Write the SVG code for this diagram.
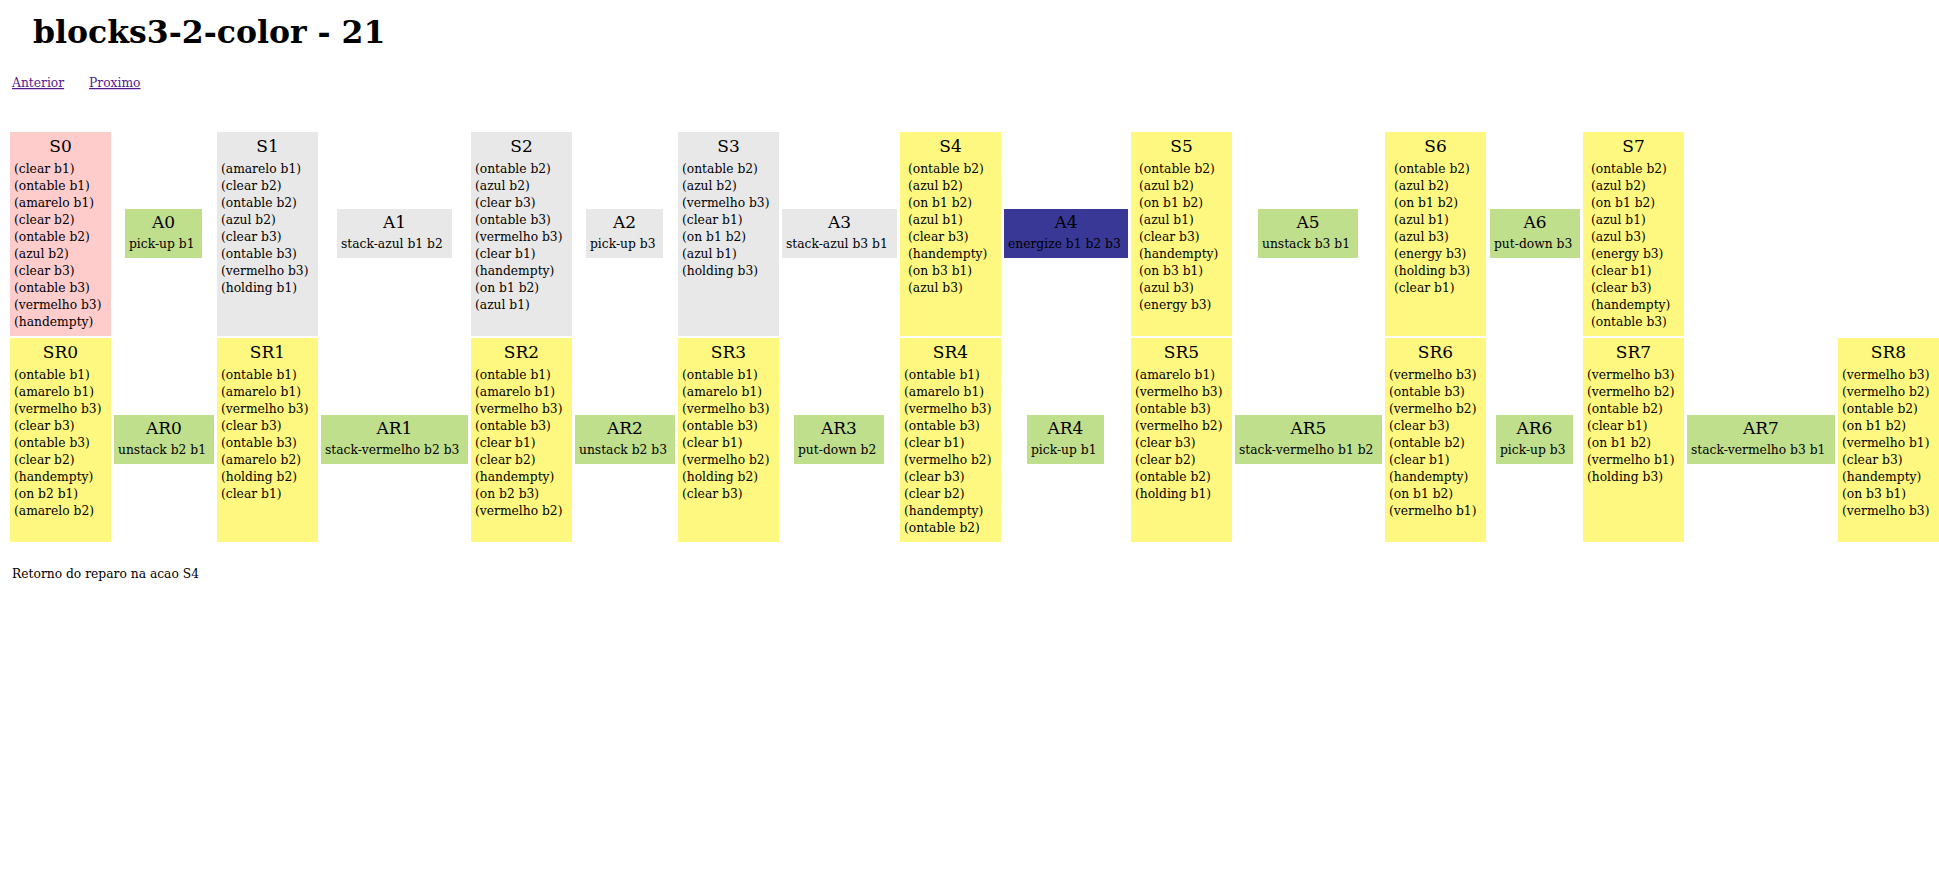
<svg xmlns="http://www.w3.org/2000/svg" width="1939" height="886" viewBox="0 0 1939 886">
<style>
text{font-family:"DejaVu Serif","Liberation Serif",serif;fill:#000}
.h1{font-size:31.5px;font-weight:bold}
.lnk{font-size:12.3px;fill:#551A8B;text-decoration:underline}
.t{font-size:17px;text-anchor:middle}
.b{font-size:12.3px}
.pink{fill:#FFCCCC}
.gray{fill:#E8E8E8}
.yel{fill:#FFF880}
.grn{fill:#C0DF8C}
.blu{fill:#3A3896}
</style>
<rect width="1939" height="886" fill="#fff"/>
<text class="h1" x="33" y="43">blocks3-2-color - 21</text>
<text class="lnk" x="12" y="87">Anterior</text>
<text class="lnk" x="89" y="87">Proximo</text>
<g id="connectors"></g>

<g id="S0"><rect class="pink" x="10" y="132" width="101" height="204"/><text class="t" x="60.5" y="152">S0</text><text class="b" y="173"><tspan x="14">(clear b1)</tspan><tspan x="14" dy="17">(ontable b1)</tspan><tspan x="14" dy="17">(amarelo b1)</tspan><tspan x="14" dy="17">(clear b2)</tspan><tspan x="14" dy="17">(ontable b2)</tspan><tspan x="14" dy="17">(azul b2)</tspan><tspan x="14" dy="17">(clear b3)</tspan><tspan x="14" dy="17">(ontable b3)</tspan><tspan x="14" dy="17">(vermelho b3)</tspan><tspan x="14" dy="17">(handempty)</tspan></text></g>
<g id="A0"><rect class="grn" x="125" y="209" width="77" height="49"/><text class="t" x="163.5" y="228">A0</text><text class="b" x="129" y="248">pick-up b1</text></g>
<g id="S1"><rect class="gray" x="217" y="132" width="101" height="204"/><text class="t" x="267.5" y="152">S1</text><text class="b" y="173"><tspan x="221">(amarelo b1)</tspan><tspan x="221" dy="17">(clear b2)</tspan><tspan x="221" dy="17">(ontable b2)</tspan><tspan x="221" dy="17">(azul b2)</tspan><tspan x="221" dy="17">(clear b3)</tspan><tspan x="221" dy="17">(ontable b3)</tspan><tspan x="221" dy="17">(vermelho b3)</tspan><tspan x="221" dy="17">(holding b1)</tspan></text></g>
<g id="A1"><rect class="gray" x="337" y="209" width="115" height="49"/><text class="t" x="394.5" y="228">A1</text><text class="b" x="341" y="248">stack-azul b1 b2</text></g>
<g id="S2"><rect class="gray" x="471" y="132" width="101" height="204"/><text class="t" x="521.5" y="152">S2</text><text class="b" y="173"><tspan x="475">(ontable b2)</tspan><tspan x="475" dy="17">(azul b2)</tspan><tspan x="475" dy="17">(clear b3)</tspan><tspan x="475" dy="17">(ontable b3)</tspan><tspan x="475" dy="17">(vermelho b3)</tspan><tspan x="475" dy="17">(clear b1)</tspan><tspan x="475" dy="17">(handempty)</tspan><tspan x="475" dy="17">(on b1 b2)</tspan><tspan x="475" dy="17">(azul b1)</tspan></text></g>
<g id="A2"><rect class="gray" x="586" y="209" width="77" height="49"/><text class="t" x="624.5" y="228">A2</text><text class="b" x="590" y="248">pick-up b3</text></g>
<g id="S3"><rect class="gray" x="678" y="132" width="101" height="204"/><text class="t" x="728.5" y="152">S3</text><text class="b" y="173"><tspan x="682">(ontable b2)</tspan><tspan x="682" dy="17">(azul b2)</tspan><tspan x="682" dy="17">(vermelho b3)</tspan><tspan x="682" dy="17">(clear b1)</tspan><tspan x="682" dy="17">(on b1 b2)</tspan><tspan x="682" dy="17">(azul b1)</tspan><tspan x="682" dy="17">(holding b3)</tspan></text></g>
<g id="A3"><rect class="gray" x="782" y="209" width="115" height="49"/><text class="t" x="839.5" y="228">A3</text><text class="b" x="786" y="248">stack-azul b3 b1</text></g>
<g id="S4"><rect class="yel" x="900" y="132" width="101" height="204"/><text class="t" x="950.5" y="152">S4</text><text class="b" y="173"><tspan x="908">(ontable b2)</tspan><tspan x="908" dy="17">(azul b2)</tspan><tspan x="908" dy="17">(on b1 b2)</tspan><tspan x="908" dy="17">(azul b1)</tspan><tspan x="908" dy="17">(clear b3)</tspan><tspan x="908" dy="17">(handempty)</tspan><tspan x="908" dy="17">(on b3 b1)</tspan><tspan x="908" dy="17">(azul b3)</tspan></text></g>
<g id="A4"><rect class="blu" x="1004" y="209" width="124" height="49"/><text class="t" x="1066" y="228">A4</text><text class="b" x="1008" y="248">energize b1 b2 b3</text></g>
<g id="S5"><rect class="yel" x="1131" y="132" width="101" height="204"/><text class="t" x="1181.5" y="152">S5</text><text class="b" y="173"><tspan x="1139">(ontable b2)</tspan><tspan x="1139" dy="17">(azul b2)</tspan><tspan x="1139" dy="17">(on b1 b2)</tspan><tspan x="1139" dy="17">(azul b1)</tspan><tspan x="1139" dy="17">(clear b3)</tspan><tspan x="1139" dy="17">(handempty)</tspan><tspan x="1139" dy="17">(on b3 b1)</tspan><tspan x="1139" dy="17">(azul b3)</tspan><tspan x="1139" dy="17">(energy b3)</tspan></text></g>
<g id="A5"><rect class="grn" x="1258" y="209" width="100" height="49"/><text class="t" x="1308" y="228">A5</text><text class="b" x="1262" y="248">unstack b3 b1</text></g>
<g id="S6"><rect class="yel" x="1385" y="132" width="101" height="204"/><text class="t" x="1435.5" y="152">S6</text><text class="b" y="173"><tspan x="1394">(ontable b2)</tspan><tspan x="1394" dy="17">(azul b2)</tspan><tspan x="1394" dy="17">(on b1 b2)</tspan><tspan x="1394" dy="17">(azul b1)</tspan><tspan x="1394" dy="17">(azul b3)</tspan><tspan x="1394" dy="17">(energy b3)</tspan><tspan x="1394" dy="17">(holding b3)</tspan><tspan x="1394" dy="17">(clear b1)</tspan></text></g>
<g id="A6"><rect class="grn" x="1490" y="209" width="90" height="49"/><text class="t" x="1535" y="228">A6</text><text class="b" x="1494" y="248">put-down b3</text></g>
<g id="S7"><rect class="yel" x="1583" y="132" width="101" height="204"/><text class="t" x="1633.5" y="152">S7</text><text class="b" y="173"><tspan x="1591">(ontable b2)</tspan><tspan x="1591" dy="17">(azul b2)</tspan><tspan x="1591" dy="17">(on b1 b2)</tspan><tspan x="1591" dy="17">(azul b1)</tspan><tspan x="1591" dy="17">(azul b3)</tspan><tspan x="1591" dy="17">(energy b3)</tspan><tspan x="1591" dy="17">(clear b1)</tspan><tspan x="1591" dy="17">(clear b3)</tspan><tspan x="1591" dy="17">(handempty)</tspan><tspan x="1591" dy="17">(ontable b3)</tspan></text></g>

<g id="SR0"><rect class="yel" x="10" y="338" width="101" height="204"/><text class="t" x="60.5" y="358">SR0</text><text class="b" y="379"><tspan x="14">(ontable b1)</tspan><tspan x="14" dy="17">(amarelo b1)</tspan><tspan x="14" dy="17">(vermelho b3)</tspan><tspan x="14" dy="17">(clear b3)</tspan><tspan x="14" dy="17">(ontable b3)</tspan><tspan x="14" dy="17">(clear b2)</tspan><tspan x="14" dy="17">(handempty)</tspan><tspan x="14" dy="17">(on b2 b1)</tspan><tspan x="14" dy="17">(amarelo b2)</tspan></text></g>
<g id="AR0"><rect class="grn" x="114" y="415" width="100" height="49"/><text class="t" x="164" y="434">AR0</text><text class="b" x="118" y="454">unstack b2 b1</text></g>
<g id="SR1"><rect class="yel" x="217" y="338" width="101" height="204"/><text class="t" x="267.5" y="358">SR1</text><text class="b" y="379"><tspan x="221">(ontable b1)</tspan><tspan x="221" dy="17">(amarelo b1)</tspan><tspan x="221" dy="17">(vermelho b3)</tspan><tspan x="221" dy="17">(clear b3)</tspan><tspan x="221" dy="17">(ontable b3)</tspan><tspan x="221" dy="17">(amarelo b2)</tspan><tspan x="221" dy="17">(holding b2)</tspan><tspan x="221" dy="17">(clear b1)</tspan></text></g>
<g id="AR1"><rect class="grn" x="321" y="415" width="147" height="49"/><text class="t" x="394.5" y="434">AR1</text><text class="b" x="325" y="454">stack-vermelho b2 b3</text></g>
<g id="SR2"><rect class="yel" x="471" y="338" width="101" height="204"/><text class="t" x="521.5" y="358">SR2</text><text class="b" y="379"><tspan x="475">(ontable b1)</tspan><tspan x="475" dy="17">(amarelo b1)</tspan><tspan x="475" dy="17">(vermelho b3)</tspan><tspan x="475" dy="17">(ontable b3)</tspan><tspan x="475" dy="17">(clear b1)</tspan><tspan x="475" dy="17">(clear b2)</tspan><tspan x="475" dy="17">(handempty)</tspan><tspan x="475" dy="17">(on b2 b3)</tspan><tspan x="475" dy="17">(vermelho b2)</tspan></text></g>
<g id="AR2"><rect class="grn" x="575" y="415" width="100" height="49"/><text class="t" x="625" y="434">AR2</text><text class="b" x="579" y="454">unstack b2 b3</text></g>
<g id="SR3"><rect class="yel" x="678" y="338" width="101" height="204"/><text class="t" x="728.5" y="358">SR3</text><text class="b" y="379"><tspan x="682">(ontable b1)</tspan><tspan x="682" dy="17">(amarelo b1)</tspan><tspan x="682" dy="17">(vermelho b3)</tspan><tspan x="682" dy="17">(ontable b3)</tspan><tspan x="682" dy="17">(clear b1)</tspan><tspan x="682" dy="17">(vermelho b2)</tspan><tspan x="682" dy="17">(holding b2)</tspan><tspan x="682" dy="17">(clear b3)</tspan></text></g>
<g id="AR3"><rect class="grn" x="794" y="415" width="90" height="49"/><text class="t" x="839" y="434">AR3</text><text class="b" x="798" y="454">put-down b2</text></g>
<g id="SR4"><rect class="yel" x="900" y="338" width="101" height="204"/><text class="t" x="950.5" y="358">SR4</text><text class="b" y="379"><tspan x="904">(ontable b1)</tspan><tspan x="904" dy="17">(amarelo b1)</tspan><tspan x="904" dy="17">(vermelho b3)</tspan><tspan x="904" dy="17">(ontable b3)</tspan><tspan x="904" dy="17">(clear b1)</tspan><tspan x="904" dy="17">(vermelho b2)</tspan><tspan x="904" dy="17">(clear b3)</tspan><tspan x="904" dy="17">(clear b2)</tspan><tspan x="904" dy="17">(handempty)</tspan><tspan x="904" dy="17">(ontable b2)</tspan></text></g>
<g id="AR4"><rect class="grn" x="1027" y="415" width="77" height="49"/><text class="t" x="1065.5" y="434">AR4</text><text class="b" x="1031" y="454">pick-up b1</text></g>
<g id="SR5"><rect class="yel" x="1131" y="338" width="101" height="204"/><text class="t" x="1181.5" y="358">SR5</text><text class="b" y="379"><tspan x="1135">(amarelo b1)</tspan><tspan x="1135" dy="17">(vermelho b3)</tspan><tspan x="1135" dy="17">(ontable b3)</tspan><tspan x="1135" dy="17">(vermelho b2)</tspan><tspan x="1135" dy="17">(clear b3)</tspan><tspan x="1135" dy="17">(clear b2)</tspan><tspan x="1135" dy="17">(ontable b2)</tspan><tspan x="1135" dy="17">(holding b1)</tspan></text></g>
<g id="AR5"><rect class="grn" x="1235" y="415" width="147" height="49"/><text class="t" x="1308.5" y="434">AR5</text><text class="b" x="1239" y="454">stack-vermelho b1 b2</text></g>
<g id="SR6"><rect class="yel" x="1385" y="338" width="101" height="204"/><text class="t" x="1435.5" y="358">SR6</text><text class="b" y="379"><tspan x="1389">(vermelho b3)</tspan><tspan x="1389" dy="17">(ontable b3)</tspan><tspan x="1389" dy="17">(vermelho b2)</tspan><tspan x="1389" dy="17">(clear b3)</tspan><tspan x="1389" dy="17">(ontable b2)</tspan><tspan x="1389" dy="17">(clear b1)</tspan><tspan x="1389" dy="17">(handempty)</tspan><tspan x="1389" dy="17">(on b1 b2)</tspan><tspan x="1389" dy="17">(vermelho b1)</tspan></text></g>
<g id="AR6"><rect class="grn" x="1496" y="415" width="77" height="49"/><text class="t" x="1534.5" y="434">AR6</text><text class="b" x="1500" y="454">pick-up b3</text></g>
<g id="SR7"><rect class="yel" x="1583" y="338" width="101" height="204"/><text class="t" x="1633.5" y="358">SR7</text><text class="b" y="379"><tspan x="1587">(vermelho b3)</tspan><tspan x="1587" dy="17">(vermelho b2)</tspan><tspan x="1587" dy="17">(ontable b2)</tspan><tspan x="1587" dy="17">(clear b1)</tspan><tspan x="1587" dy="17">(on b1 b2)</tspan><tspan x="1587" dy="17">(vermelho b1)</tspan><tspan x="1587" dy="17">(holding b3)</tspan></text></g>
<g id="AR7"><rect class="grn" x="1687" y="415" width="148" height="49"/><text class="t" x="1761" y="434">AR7</text><text class="b" x="1691" y="454">stack-vermelho b3 b1</text></g>
<g id="SR8"><rect class="yel" x="1838" y="338" width="101" height="204"/><text class="t" x="1888.5" y="358">SR8</text><text class="b" y="379"><tspan x="1842">(vermelho b3)</tspan><tspan x="1842" dy="17">(vermelho b2)</tspan><tspan x="1842" dy="17">(ontable b2)</tspan><tspan x="1842" dy="17">(on b1 b2)</tspan><tspan x="1842" dy="17">(vermelho b1)</tspan><tspan x="1842" dy="17">(clear b3)</tspan><tspan x="1842" dy="17">(handempty)</tspan><tspan x="1842" dy="17">(on b3 b1)</tspan><tspan x="1842" dy="17">(vermelho b3)</tspan></text></g>

<text class="b" x="12" y="578">Retorno do reparo na acao S4</text>
</svg>
